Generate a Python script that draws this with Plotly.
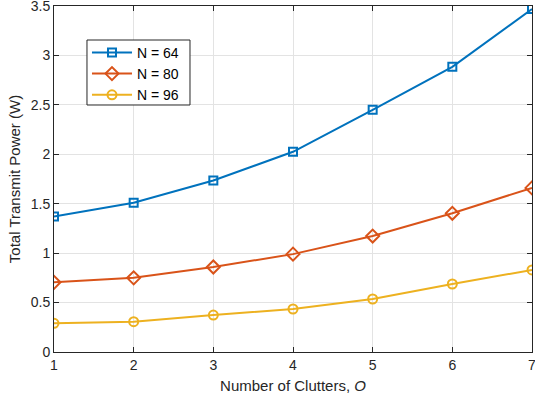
import plotly.graph_objects as go

clutters = [1, 2, 3, 4, 5, 6, 7]
p_n64 = [1.37, 1.51, 1.735, 2.025, 2.45, 2.885, 3.47]
p_n80 = [0.705, 0.75, 0.86, 0.99, 1.173, 1.403, 1.66]
p_n96 = [0.29, 0.307, 0.374, 0.435, 0.536, 0.688, 0.83]
names = ["N = 64", "N = 80", "N = 96"]
colors = ["#0072BD", "#D95319", "#EDB120"]
symbols = ["square-open", "diamond-open", "circle-open"]
sizes = [8, 10, 9]

fig = go.Figure()
for ys, nm, c, s, sz in zip([p_n64, p_n80, p_n96], names, colors, symbols, sizes):
    fig.add_trace(go.Scatter(
        x=clutters, y=ys, name=nm, mode="lines+markers",
        line=dict(color=c, width=2),
        marker=dict(symbol=s, size=sz, color=c, line=dict(color=c, width=2)),
    ))

FONT = "Liberation Sans, Arial, sans-serif"
axis_common = dict(
    showline=True, linecolor="#262626", linewidth=1, mirror="ticks",
    ticks="inside", ticklen=5, tickcolor="#262626",
    showgrid=True, gridcolor="#e3e3e3", gridwidth=1,
    zeroline=False, automargin=False, ticklabeloverflow="allow",
    tickfont=dict(family=FONT, size=14, color="#262626"),
    title_font=dict(family=FONT, size=15, color="#262626"),
)

# legend frame (layout decoration)
fig.add_shape(type="rect", xref="paper", yref="paper",
              x0=0.069, x1=0.2845, y0=0.7139, y1=0.9017,
              line=dict(color="#262626", width=1), fillcolor="white", layer="above")

fig.update_layout(
    width=535, height=405,
    margin=dict(l=54, r=3, t=6, b=53, autoexpand=False),
    plot_bgcolor="white", paper_bgcolor="white",
    font=dict(family=FONT, color="#262626"),
    xaxis=dict(range=[1, 7], dtick=1, title=dict(text="Number of Clutters, <i>O</i>", standoff=8), **axis_common),
    yaxis=dict(range=[0, 3.5], dtick=0.5, title=dict(text="Total Transmit Power (W)", standoff=6), **axis_common),
    legend=dict(
        x=0.069, y=0.911, xanchor="left", yanchor="top",
        bgcolor="rgba(0,0,0,0)", borderwidth=0,
        font=dict(family=FONT, size=14, color="#000000"),
        tracegroupgap=0, itemwidth=40,
    ),
    showlegend=True,
)

fig.write_html("out.html", config={"displayModeBar": False},
               post_script="document.body.style.margin='0';document.body.style.padding='0';")
